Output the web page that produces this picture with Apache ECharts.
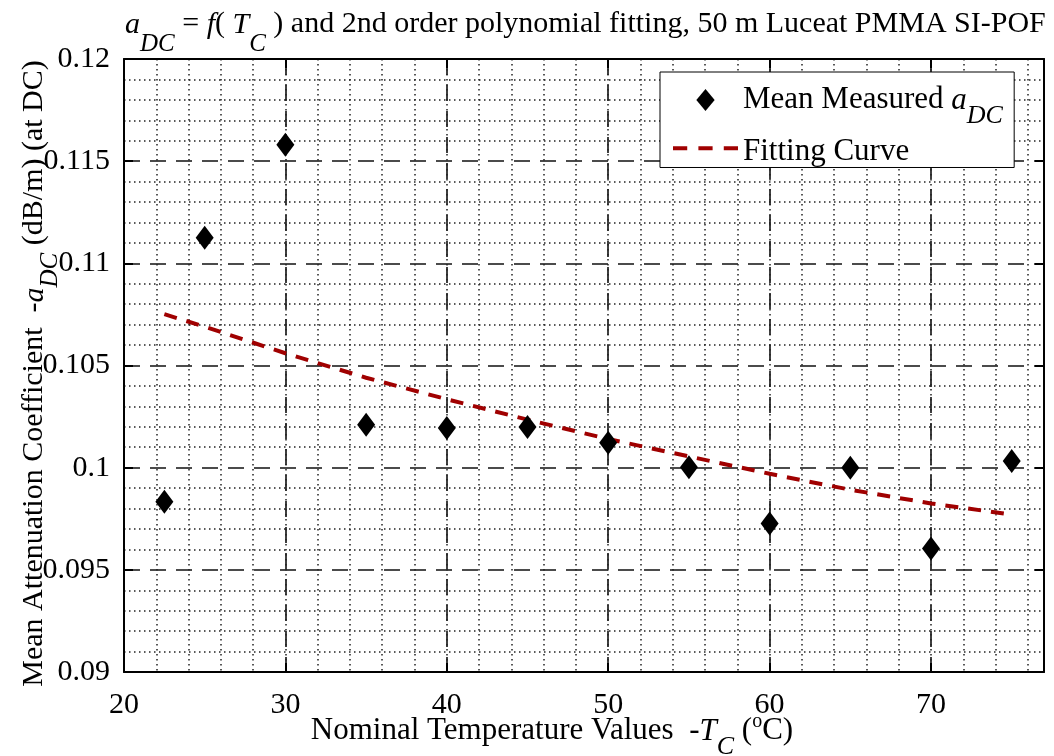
<html>

<head>
  <script src="https://cdn.jsdelivr.net/npm/echarts@6/dist/echarts.min.js"></script>
</head>

<body style="margin:0">
  <div id="main" style="width: 1054px;height:756px;"></div>
  <script>
    // nominal temperatures (deg C) and mean measured attenuation (dB/m)
    var tempPoints = [22.5, 25, 30, 35, 40, 45, 50, 55, 60, 65, 70, 75];
    var meanValues = [0.09833, 0.11125, 0.1158, 0.1021, 0.10194, 0.10199, 0.10122, 0.10002, 0.09727, 0.1, 0.09605, 0.10033];
    // 2nd order fitting curve
    var fitTemps = [22.5, 25, 30, 35, 40, 45, 50, 55, 60, 65, 70, 75];
    var fitValues = [0.10751, 0.1069, 0.1056, 0.1044, 0.10335, 0.10235, 0.1014, 0.10055, 0.0997, 0.09892, 0.09825, 0.0977];
    var xTickLabels = [20, 30, 40, 50, 60, 70];
    var yTickLabels = [0.09, 0.095, 0.1, 0.105, 0.11, 0.115, 0.12];

    var serif = 'Liberation Serif';
    var xMin = 20, xMax = 77, yMin = 0.09, yMax = 0.12;

    // rich styles: n normal, i italic, s subscript, o superscript, g spacer
    function richSet(size, up, subDrop) {
      var sub = Math.round(size * 0.83);
      var base = { fontFamily: serif, fontWeight: 'normal', color: '#000', verticalAlign: 'top' };
      return {
        n: Object.assign({}, base, { fontSize: size, lineHeight: size, padding: [up, 0, 0, 0] }),
        i: Object.assign({}, base, { fontStyle: 'italic', fontSize: size, lineHeight: size, padding: [up, 0, 0, 0] }),
        s: Object.assign({}, base, { fontStyle: 'italic', fontSize: sub, lineHeight: sub, padding: [up + subDrop, 0, 0, 0] }),
        o: Object.assign({}, base, { fontSize: Math.round(size * 0.65), lineHeight: Math.round(size * 0.65), padding: [7, 0, 0, 0] }),
        g1: Object.assign({}, base, { fontSize: 1, lineHeight: 48 }),
        g2: Object.assign({}, base, { fontSize: 1, lineHeight: 40 })
      };
    }

    var axisBox = { show: true, lineStyle: { color: '#000', width: 2 } };
    var tickIn = { show: true, inside: true, length: 9, lineStyle: { color: '#000', width: 2 } };
    var dashed = { show: true, lineStyle: { color: '#111', width: 1.6, type: [16, 10] } };
    var dotted = { show: true, lineStyle: { color: '#222', width: 1.5, type: [1.5, 3.5] } };

    var myChart = echarts.init(document.getElementById('main'));

    option = {
      animation: false,
      backgroundColor: '#fff',
      title: {
        text: '{i|a}{s|DC}{n| = }{i|f}{n|( }{i|T}{s|C}{n| ) and 2nd order polynomial fitting, 50 m Luceat PMMA SI-POF}',
        left: 125,
        top: 1,
        padding: 0,
        textStyle: { fontWeight: 'normal', rich: richSet(30, 0, 24) }
      },
      legend: {
        orient: 'vertical',
        left: 660,
        top: 72,
        padding: [4, 11, -8, 13],
        itemWidth: 65,
        itemHeight: 22,
        itemGap: -9,
        backgroundColor: '#fff',
        borderColor: '#000',
        borderWidth: 1,
        data: [
          { name: 'Mean Measured aDC', icon: 'path://M10,0L20,12L10,24L0,12Z' },
          { name: 'Fitting Curve', icon: 'path://M0,0h14v4H0zM25,0h14v4H25zM50,0h14v4H50z' }
        ],
        formatter: function (name) {
          if (name === 'Fitting Curve') return '{n|Fitting Curve}{g2| }';
          return '{n|Mean Measured }{i|a}{s|DC}{g1| }';
        },
        textStyle: { rich: richSet(31, 0, 20) }
      },
      grid: {
        left: 124,
        right: 10,
        top: 59,
        bottom: 84,
        outerBoundsMode: 'none'
      },
      xAxis: [{
        type: 'value',
        position: 'bottom',
        min: xMin,
        max: xMax,
        interval: 10,
        axisLine: axisBox,
        axisTick: tickIn,
        axisLabel: {
          margin: 10,
          fontFamily: serif,
          fontSize: 30,
          color: '#000',
          formatter: function (v) {
            return xTickLabels.indexOf(v) >= 0 ? String(v) : '';
          }
        },
        splitLine: dashed,
        name: '{n|Nominal Temperature Values  -}{i|T}{s|C}{n| (}{o|o}{n|C)}',
        nameLocation: 'middle',
        nameGap: 27,
        nameMoveOverlap: false,
        nameTextStyle: { rich: richSet(31, 8, 20), padding: [0, 64, 0, 0] }
      }, {
        type: 'value',
        position: 'top',
        min: xMin,
        max: xMax,
        interval: 10,
        axisLine: axisBox,
        axisTick: tickIn,
        axisLabel: { show: false },
        splitLine: { show: false }
      }, {
        // minor grid every 2 deg
        type: 'value',
        position: 'bottom',
        min: xMin,
        max: xMax,
        interval: 2,
        axisLine: { show: false },
        axisTick: { show: false },
        axisLabel: { show: false },
        splitLine: dotted
      }],
      yAxis: [{
        type: 'value',
        position: 'left',
        min: yMin,
        max: yMax,
        interval: 0.005,
        axisLine: axisBox,
        axisTick: tickIn,
        axisLabel: {
          margin: 14,
          fontFamily: serif,
          fontSize: 30,
          color: '#000',
          formatter: function (v) {
            var r = +v.toFixed(3);
            return yTickLabels.indexOf(r) >= 0 ? String(r) : '';
          }
        },
        splitLine: dashed,
        minorTick: { show: false, splitNumber: 5 },
        minorSplitLine: dotted,
        name: '{n|Mean Attenuation Coefficient  -}{i|a}{s|DC}{n| (dB/m) (at DC)}',
        nameLocation: 'middle',
        nameGap: 83,
        nameMoveOverlap: false,
        nameTextStyle: { rich: richSet(30, 0, 20), padding: [0, 16, 0, 0] }
      }, {
        type: 'value',
        position: 'right',
        min: yMin,
        max: yMax,
        interval: 0.005,
        axisLine: axisBox,
        axisTick: tickIn,
        axisLabel: { show: false },
        splitLine: { show: false }
      }],
      series: [{
        name: 'Mean Measured aDC',
        type: 'scatter',
        symbol: 'diamond',
        symbolSize: [18, 24],
        itemStyle: { color: '#000', opacity: 1 },
        data: tempPoints.map(function (t, k) { return [t, meanValues[k]]; }),
        z: 4
      }, {
        name: 'Fitting Curve',
        type: 'line',
        showSymbol: false,
        symbol: 'none',
        itemStyle: { color: '#a00000' },
        lineStyle: { color: '#a00000', width: 4, type: [13, 10] },
        data: fitTemps.map(function (t, k) { return [t, fitValues[k]]; }),
        z: 3
      }]
    };

    myChart.setOption(option);

  </script>
</body>

</html>
